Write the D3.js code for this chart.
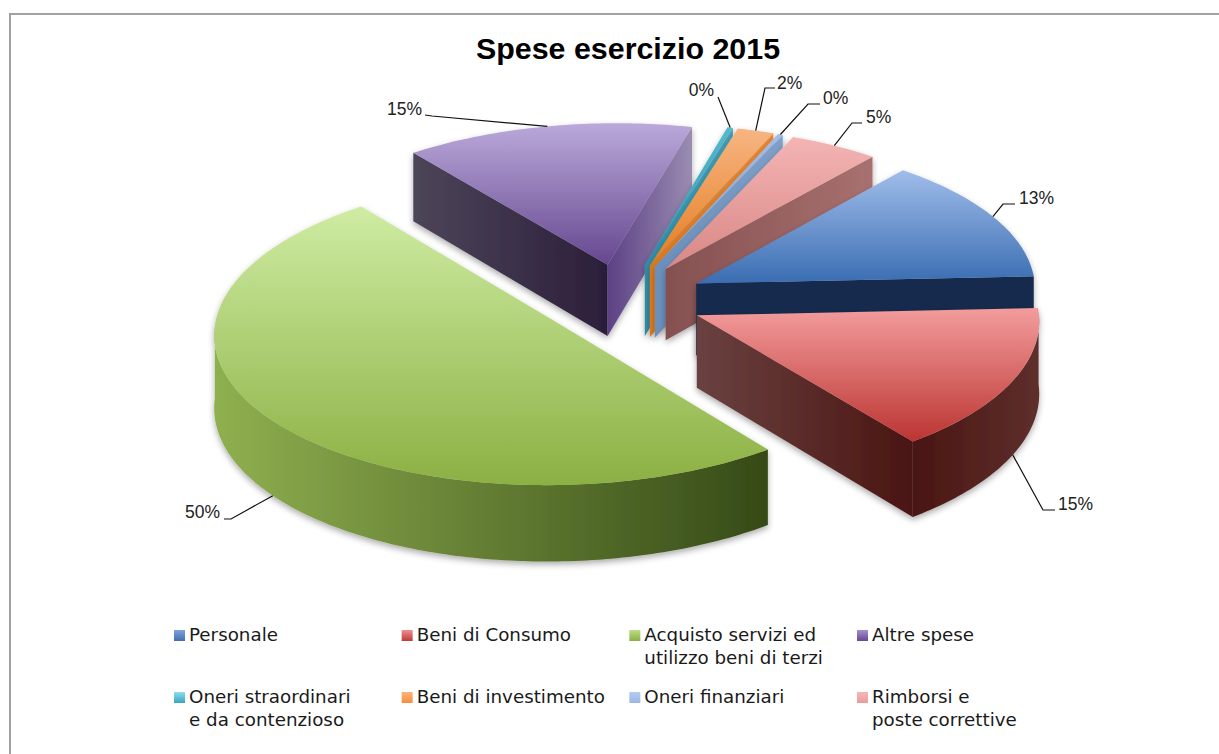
<!DOCTYPE html>
<html>
<head>
<meta charset="utf-8">
<script src="https://cdn.jsdelivr.net/npm/d3@7"></script>
<style>
  html, body { margin: 0; padding: 0; background: #fff; overflow: hidden; }
</style>
</head>
<body>
<div id="chart"></div>
<script>
// dati
const categories = ["Personale", "Beni di Consumo", "Acquisto servizi ed utilizzo beni di terzi", "Altre spese",
  "Oneri straordinari e da contenzioso", "Beni di investimento", "Oneri finanziari", "Rimborsi e poste correttive"];
const values = [13.49, 15.2, 49.9, 14.5, 0.28, 1.85, 0.25, 4.53];
const percentLabels = ["13%", "15%", "50%", "15%", "0%", "2%", "0%", "5%"];
const legendLines = [["Personale"], ["Beni di Consumo"], ["Acquisto servizi ed", "utilizzo beni di terzi"], ["Altre spese"],
  ["Oneri straordinari", "e da contenzioso"], ["Beni di investimento"], ["Oneri finanziari"], ["Rimborsi e", "poste correttive"]];

// colori: faccia superiore [chiaro, scuro], fianchi, legenda
const topColors = [["#a0bdea", "#3a6db2"], ["#f39c9c", "#bb3532"], ["#cfeca3", "#8cb043"], ["#bba9da", "#65478f"],
  ["#58b8cc", "#2f97b0"], ["#f7b582", "#e57d22"], ["#a3bde6", "#7f9fcf"], ["#f3b5b4", "#d98785"]];
const wallColors = [["#162c4d", "#162c4d"], ["#6a4140", "#4a1512"], ["#8fb04f", "#364a17"], ["#4d4559", "#2b1e3a"],
  ["#2f8ea8", "#45a0b8"], ["#de7a1f", "#e98a35"], ["#6a8fbb", "#7fa0c8"], ["#855050", "#a87170"]];
const endWallColors = { 3: ["#5c4184", "#9a8cb2"] };
const swatchColors = [["#7fa3dc", "#3e6fb0"], ["#ee8f8e", "#bd3b38"], ["#bcdd85", "#8cb043"], ["#a78fd0", "#65478f"],
  ["#8fdcee", "#38a5c2"], ["#fbb47c", "#f58d3c"], ["#b4cbf2", "#9ab7e8"], ["#f6b6b5", "#eb9c9b"]];

const width = 1219, height = 754;
const svg = d3.select("#chart").append("svg").attr("width", width).attr("height", height)
  .style("display", "block").style("font-family", "'Liberation Sans', Arial, sans-serif");
const defs = svg.append("defs");

// ombra morbida sotto le fette
const shadow = defs.append("filter").attr("id", "soft").attr("x", "-10%").attr("y", "-10%").attr("width", "120%").attr("height", "125%");
shadow.append("feDropShadow").attr("dx", 0).attr("dy", 3).attr("stdDeviation", 3)
  .attr("flood-color", "#000").attr("flood-opacity", 0.33);

// cornice: solo lato alto e sinistro restano nel ritaglio
svg.append("path").attr("d", "M10,754V14H1219")
  .attr("fill", "none").attr("stroke", "#a2a2a2").attr("stroke-width", 2);

svg.append("text").attr("x", 628).attr("y", 59).attr("text-anchor", "middle")
  .style("font-size", "30.4px").style("font-weight", "bold").attr("fill", "#000").text("Spese esercizio 2015");

// proiezione: torta inclinata con lieve prospettiva
const view = { cx: 623, cy: 300, rx: 340, rz: 152, depth: 72, persp: 0.05, skew: 0.01, explode: 0.24 };

function project(angle, r, mid, onBottom) {
  const wx = r * Math.sin(angle) + view.explode * Math.sin(mid);
  const wz = -r * Math.cos(angle) - view.explode * Math.cos(mid);
  const s = 1 / (1 - view.persp * wz);
  return [
    view.cx + view.rx * wx * s,
    view.cy + view.rz * wz * s - view.skew * view.rx * wx + (onBottom ? view.depth * s : 0)
  ];
}

const startAngle = 40 * Math.PI / 180;
const pie = d3.pie().sort(null).startAngle(startAngle).endAngle(startAngle + 2 * Math.PI);
const arcs = pie(values);
const line = d3.line();

function arcPoints(a0, a1, mid, onBottom) {
  const n = Math.max(2, Math.ceil(Math.abs(a1 - a0) * 60));
  return d3.range(n + 1).map(i => project(a0 + (a1 - a0) * i / n, 1, mid, onBottom));
}

function hGradient(id, colors, x0, x1) {
  const g = defs.append("linearGradient").attr("id", id).attr("gradientUnits", "userSpaceOnUse")
    .attr("x1", x0).attr("x2", x1).attr("y1", 0).attr("y2", 0);
  g.append("stop").attr("offset", 0).attr("stop-color", colors[0]);
  g.append("stop").attr("offset", 1).attr("stop-color", colors[1]);
}

function vGradient(id, colors, y0, y1) {
  const g = defs.append("linearGradient").attr("id", id).attr("gradientUnits", "userSpaceOnUse")
    .attr("x1", 0).attr("x2", 0).attr("y1", y0).attr("y2", y1);
  g.append("stop").attr("offset", 0).attr("stop-color", colors[0]);
  g.append("stop").attr("offset", 1).attr("stop-color", colors[1]);
}

// parete radiale tra centro e bordo
function drawEdgeWall(g, angle, mid, id, colors) {
  const apex = project(0, 0, mid, false), rim = project(angle, 1, mid, false);
  const rimB = project(angle, 1, mid, true), apexB = project(0, 0, mid, true);
  hGradient(id, colors, Math.min(apex[0], rim[0]), Math.max(apex[0], rim[0]));
  g.append("path").attr("d", line([apex, rim, rimB, apexB]) + "Z").attr("fill", `url(#${id})`);
}

// ordine di disegno: dal fondo verso chi guarda
const drawOrder = [3, 4, 5, 6, 7, 0, 1, 2];
const pieLayer = svg.append("g");

drawOrder.forEach(i => {
  const d = arcs[i];
  const mid = (d.startAngle + d.endAngle) / 2;
  const g = pieLayer.append("g").attr("filter", "url(#soft)");
  const apex = project(0, 0, mid, false);

  const topPts = [apex].concat(arcPoints(d.startAngle, d.endAngle, mid, false));
  const [yMin, yMax] = d3.extent(topPts, p => p[1]);

  // fianchi visibili
  const sinS = Math.sin(d.startAngle), sinE = Math.sin(d.endAngle);
  const edges = [];
  if (sinS < 0) edges.push({ angle: d.startAngle, id: `ws${i}`, colors: wallColors[i] });
  if (sinE > 0) edges.push({ angle: d.endAngle, id: `we${i}`, colors: endWallColors[i] || wallColors[i] });
  edges.forEach(e => drawEdgeWall(g, e.angle, mid, e.id, e.colors));

  // parete curva: solo la parte anteriore dell'arco
  const frontStart = Math.max(d.startAngle, Math.PI / 2), frontEnd = Math.min(d.endAngle, 3 * Math.PI / 2);
  if (frontEnd > frontStart) {
    const upper = arcPoints(frontStart, frontEnd, mid, false);
    const lower = arcPoints(frontStart, frontEnd, mid, true).reverse();
    const xs = upper.map(p => p[0]);
    const id = `wc${i}`;
    if (i === 1) hGradient(id, ["#4a1512", "#5e2f2c"], d3.min(xs), d3.max(xs));
    else hGradient(id, wallColors[i], d3.min(xs), d3.max(xs));
    g.append("path").attr("d", line(upper.concat(lower)) + "Z").attr("fill", `url(#${id})`);
  }

  // faccia superiore
  vGradient(`top${i}`, topColors[i], yMin, yMax);
  g.append("path").attr("d", line(topPts) + "Z").attr("fill", `url(#top${i})`);
});

// etichette percentuali con linee guida
const labelLayout = [
  { elbow: [1003, 204], end: [1015, 204], text: [1019, 204], anchor: "start" },
  { elbow: [1043, 510], end: [1055, 510], text: [1058, 510], anchor: "start" },
  { elbow: [231, 519], end: [224, 519], text: [220, 518], anchor: "end" },
  { elbow: [432, 116], end: [425, 115], text: [422, 115], anchor: "end" },
  { elbow: [718, 97], end: [718, 97], text: [714, 96], anchor: "end" },
  { elbow: [765, 88], end: [775, 88], text: [777, 89], anchor: "start" },
  { elbow: [808, 104], end: [820, 104], text: [823, 104], anchor: "start" },
  { elbow: [852, 123], end: [862, 123], text: [866, 123], anchor: "start" }
];

const labelLayer = svg.append("g");
arcs.forEach((d, i) => {
  const mid = (d.startAngle + d.endAngle) / 2;
  const front = Math.cos(mid) < 0;
  const start = project(mid, 1, mid, front);
  const l = labelLayout[i];
  labelLayer.append("path").attr("d", line([start, l.elbow, l.end]))
    .attr("fill", "none").attr("stroke", "#111").attr("stroke-width", 1.2);
  labelLayer.append("text").attr("x", l.text[0]).attr("y", l.text[1])
    .attr("text-anchor", l.anchor).style("font-size", "17.5px").attr("fill", "#222").text(percentLabels[i]);
});

// legenda: 4 colonne su 2 righe
const legendX = d3.scalePoint().domain(d3.range(4)).range([174, 857]);
const legendY = d3.scalePoint().domain(d3.range(2)).range([641, 703]);
const legend = svg.append("g").style("font-family", "'DejaVu Sans', Verdana, sans-serif");
categories.forEach((name, i) => {
  const col = i % 4, row = Math.floor(i / 4);
  const x = legendX(col), y = legendY(row);
  const grad = defs.append("linearGradient").attr("id", `sw${i}`).attr("x1", 0).attr("x2", 0).attr("y1", 0).attr("y2", 1);
  grad.append("stop").attr("offset", 0).attr("stop-color", swatchColors[i][0]);
  grad.append("stop").attr("offset", 1).attr("stop-color", swatchColors[i][1]);
  legend.append("rect").attr("x", x).attr("y", y - 11).attr("width", 11).attr("height", 11).attr("fill", `url(#sw${i})`);
  const t = legend.append("text").attr("fill", "#1a1a1a").style("font-size", "18.3px");
  legendLines[i].forEach((s, j) => {
    t.append("tspan").attr("x", x + 15).attr("y", y + j * 23).text(s);
  });
});
</script>
</body>
</html>
